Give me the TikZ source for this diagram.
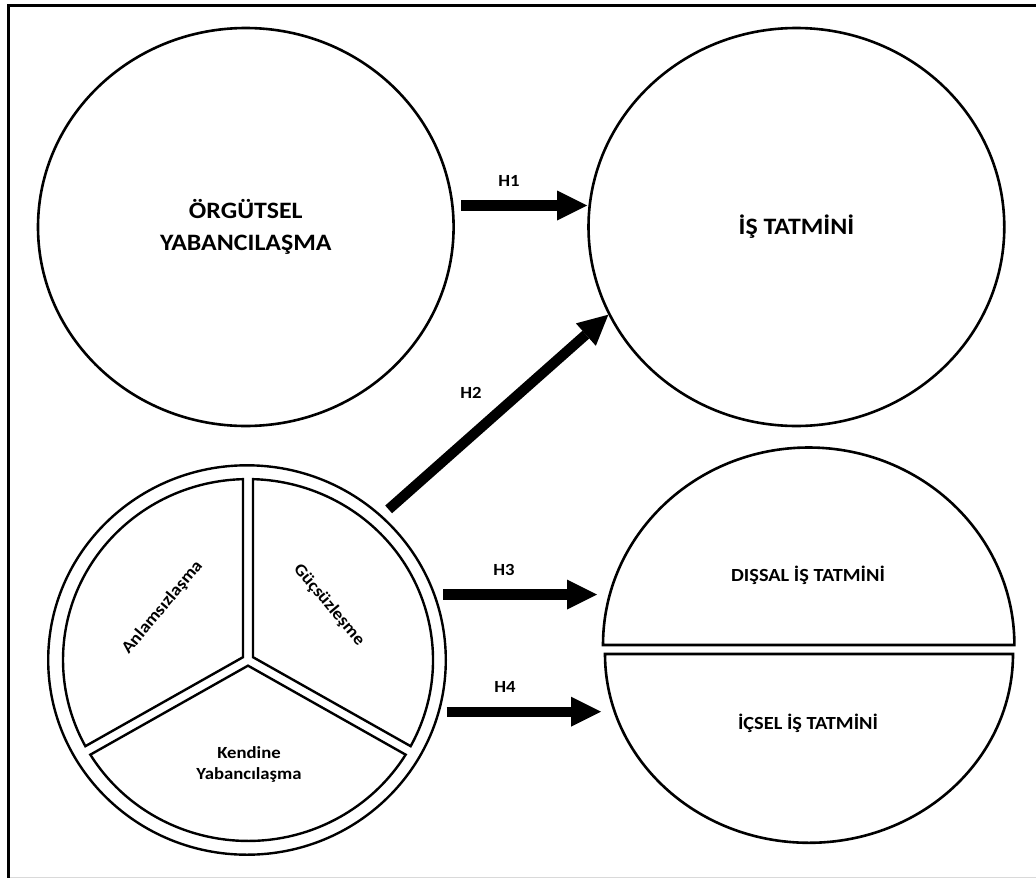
\documentclass[tikz,border=0pt]{standalone}
\usepackage{fontspec}
\setmainfont{Carlito}[FakeStretch=1.1]
\usetikzlibrary{arrows.meta,shapes.geometric,calc}
\begin{document}
\begin{tikzpicture}[x=1pt,y=-1pt,
  outline/.style={line width=2.6pt},
  ringline/.style={line width=2.4pt},
  bigarrow/.style={line width=10.3pt,
    -{Triangle[length=30pt,width=30pt,line width=0pt]}},
  bigtext/.style={font=\bfseries\fontsize{23.5}{31.6}\selectfont, align=center},
  midtext/.style={font=\bfseries\fontsize{17}{21}\selectfont, align=center},
  captext/.style={font=\bfseries\fontsize{18.5}{21}\selectfont, align=center},
  hlabel/.style={font=\bfseries\fontsize{17}{20}\selectfont},
  oval/.style={ellipse, draw, outline, inner sep=0pt}]

\useasboundingbox (0,0) rectangle (1036,878);

% frame
\draw[line width=3pt] (8.5,880) -- (8.5,5.5) -- (1036,5.5);
\draw[black!15, line width=1pt] (10,877.5) -- (1036,877.5);

% main constructs
\node[oval, bigtext, minimum width=415.6pt, minimum height=398pt] (org) at (245.8,227)
  {ÖRGÜTSEL\\YABANCILAŞMA};
\node[oval, bigtext, minimum width=415.8pt, minimum height=398pt] (isT) at (796.4,227)
  {İŞ TATMİNİ};

% dimensions of alienation: outer ring
\node[ellipse, draw, ringline, inner sep=0pt, minimum width=397.6pt, minimum height=389.4pt]
  (pie) at (247,660) {};

% three sectors inside the ring
\begin{scope}[shift={(248,660)}, y=0.978pt]
  \draw[ringline] (150:5.77) -- (91.55:185)
    arc[start angle=91.55, end angle=208.45, radius=185] -- cycle;
  \draw[ringline] (30:5.77) -- (-28.45:185)
    arc[start angle=-28.45, end angle=88.45, radius=185] -- cycle;
  \draw[ringline] (270:5.77) -- (211.55:185)
    arc[start angle=211.55, end angle=328.45, radius=185] -- cycle;
\end{scope}

\node[midtext, rotate=50] (anl) at (162.5,607.5) {Anlamsızlaşma};
\node[midtext, rotate=-50] (guc) at (329,605) {Güçsüzleşme};
\node[midtext] (ken) at (249,764) {Kendine\\Yabancılaşma};

% split job satisfaction circle
\begin{scope}[shift={(808.7,645)}, y=1pt]
  \draw[outline] (-205.7,0) arc[start angle=180, end angle=0, x radius=205.7, y radius=197.5] -- cycle;
\end{scope}
\begin{scope}[shift={(809,654)}, y=1pt]
  \draw[outline] (-204,0) arc[start angle=180, end angle=360, x radius=204, y radius=188.8] -- cycle;
\end{scope}
\node[captext] (dis) at (808,575) {DIŞSAL İŞ TATMİNİ};
\node[captext] (ics) at (808,723) {İÇSEL İŞ TATMİNİ};

% hypotheses
\coordinate (h1s) at ([shift={(6.4,-21.5)}]org.east);
\draw[bigarrow] (h1s) -- (h1s -| isT.west);
\draw[bigarrow, shorten <=9pt] (pie.47) -- (isT.205);
\draw[bigarrow] ([shift={(-4,-65.5)}]pie.east) -- ([shift={(-211,19.5)}]dis.center);
\draw[bigarrow] ([shift={(-0.3,51.7)}]pie.east) -- ([shift={(-207,-11.3)}]ics.center);

\node[hlabel] (h1) at (509,181) {H1};
\node[hlabel] (h2) at (471,393) {H2};
\node[hlabel] (h3) at (504,570) {H3};
\node[hlabel] (h4) at (505,687) {H4};
\end{tikzpicture}
\end{document}
